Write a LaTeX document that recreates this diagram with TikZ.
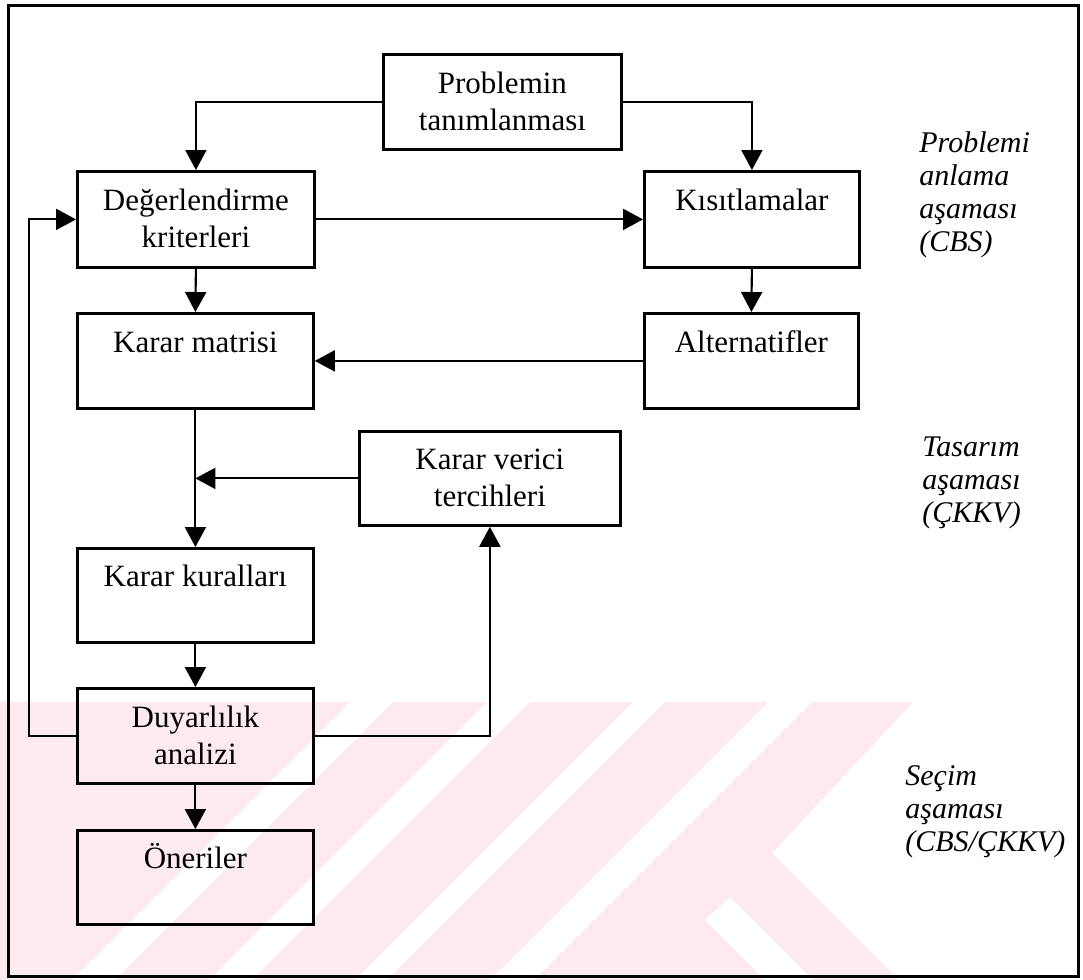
\documentclass[tikz,border=0pt]{standalone}
\usepackage{fontspec}
\setmainfont{Liberation Serif}
\usetikzlibrary{arrows.meta}
\definecolor{wm}{RGB}{253,234,238}
\newcommand{\fl}{\rule{0pt}{15.5pt}}
\newcommand{\sideln}{\rule{0pt}{15pt}}
\tikzset{
  box/.style={draw, line width=1.4pt, inner sep=0pt, anchor=north west},
  txt/.style={anchor=north, inner sep=0pt, align=center,
              font=\fontsize{15.5}{18.3}\selectfont},
  side/.style={anchor=north west, inner sep=0pt, align=left,
               font=\fontsize{15}{16.5}\selectfont\itshape},
  conn/.style={draw, line width=1.05pt, -{Triangle[length=10pt,width=10.5pt]}},
}
\begin{document}
\begin{tikzpicture}[x=0.5pt, y=-0.5pt]
\useasboundingbox (0,0) rectangle (1083,980);

% faint background emblem
\fill[wm] (0,702) -- (913,702) -- (772,853) -- (899,980) -- (0,980) -- cycle;
\fill[white] (768,702) -- (812,702) -- (534,980) -- (490,980) -- cycle;
\fill[white] (633,702) -- (665,702) -- (387,980) -- (355,980) -- cycle;
\fill[white] (487,702) -- (530,702) -- (252,980) -- (209,980) -- cycle;
\fill[white] (350,702) -- (393,702) -- (115,980) -- (72,980) -- cycle;
\fill[white] (705,920) -- (730,897) -- (813,980) -- (765,980) -- cycle;

% outer frame
\draw[line width=1.5pt] (8,5) rectangle (1078,976);

% boxes
\node[box, minimum width=119pt,   minimum height=47.5pt] (P)  at (382,53)  {};
\node[box, minimum width=118.5pt, minimum height=48pt]   (D)  at (76,170)  {};
\node[box, minimum width=107.5pt, minimum height=48pt]   (K)  at (643,170) {};
\node[box, minimum width=118pt,   minimum height=47.5pt] (KM) at (76,312)  {};
\node[box, minimum width=107pt,   minimum height=47.5pt] (A)  at (643,312) {};
\node[box, minimum width=130.5pt, minimum height=47pt]   (KV) at (358,430) {};
\node[box, minimum width=118pt,   minimum height=47pt]   (KK) at (76,547)  {};
\node[box, minimum width=118pt,   minimum height=47.5pt] (DA) at (76,687)  {};
\node[box, minimum width=118pt,   minimum height=47pt]   (O)  at (76,829)  {};

% box texts
\node[txt] (P-t)  at ([yshift=-4.5pt]P.north)  {\fl Problemin\\tanımlanması};
\node[txt] (D-t)  at ([yshift=-4.5pt]D.north)  {\fl Değerlendirme\\kriterleri};
\node[txt] (K-t)  at ([yshift=-4.5pt]K.north)  {\fl Kısıtlamalar};
\node[txt] (KM-t) at ([yshift=-4.5pt]KM.north) {\fl Karar matrisi};
\node[txt] (A-t)  at ([yshift=-4.5pt]A.north)  {\fl Alternatifler};
\node[txt] (KV-t) at ([yshift=-4pt]KV.north)   {\fl Karar verici\\tercihleri};
\node[txt] (KK-t) at ([yshift=-4pt]KK.north)   {\fl Karar kuralları};
\node[txt] (DA-t) at ([yshift=-4.5pt]DA.north) {\fl Duyarlılık\\analizi};
\node[txt] (O-t)  at ([yshift=-4pt]O.north)    {\fl Öneriler};

% phase labels
\node[side] (s1) at (919,122) {\sideln Problemi\\anlama\\aşaması\\(CBS)};
\node[side] (s2) at (922,426) {\sideln Tasarım\\aşaması\\(ÇKKV)};
\node[side] (s3) at (905,755) {\sideln Seçim\\aşaması\\(CBS/ÇKKV)};

% connectors
\coordinate (fb) at (29,500);
\draw[conn] (P.west) -| (D.north);
\draw[conn] (P.east) -| (K.north);
\draw[conn] (D.east) -- (K.west);
\draw[conn] (D.south) -- (KM.north);
\draw[conn] (K.south) -- (A.north);
\draw[conn] (A.west) -- (KM.east);
\draw[conn] (KM.south) -- (KK.north);
\draw[conn] (KV.west) -- (KV.west -| KM.south);
\draw[conn] (KK.south) -- (DA.north);
\draw[conn] (DA.south) -- (O.north);
\draw[conn] (DA.west) -- (DA.west -| fb) -- (fb |- D.west) -- (D.west);
\draw[conn] (DA.east) -| (KV.south);
\end{tikzpicture}
\end{document}
